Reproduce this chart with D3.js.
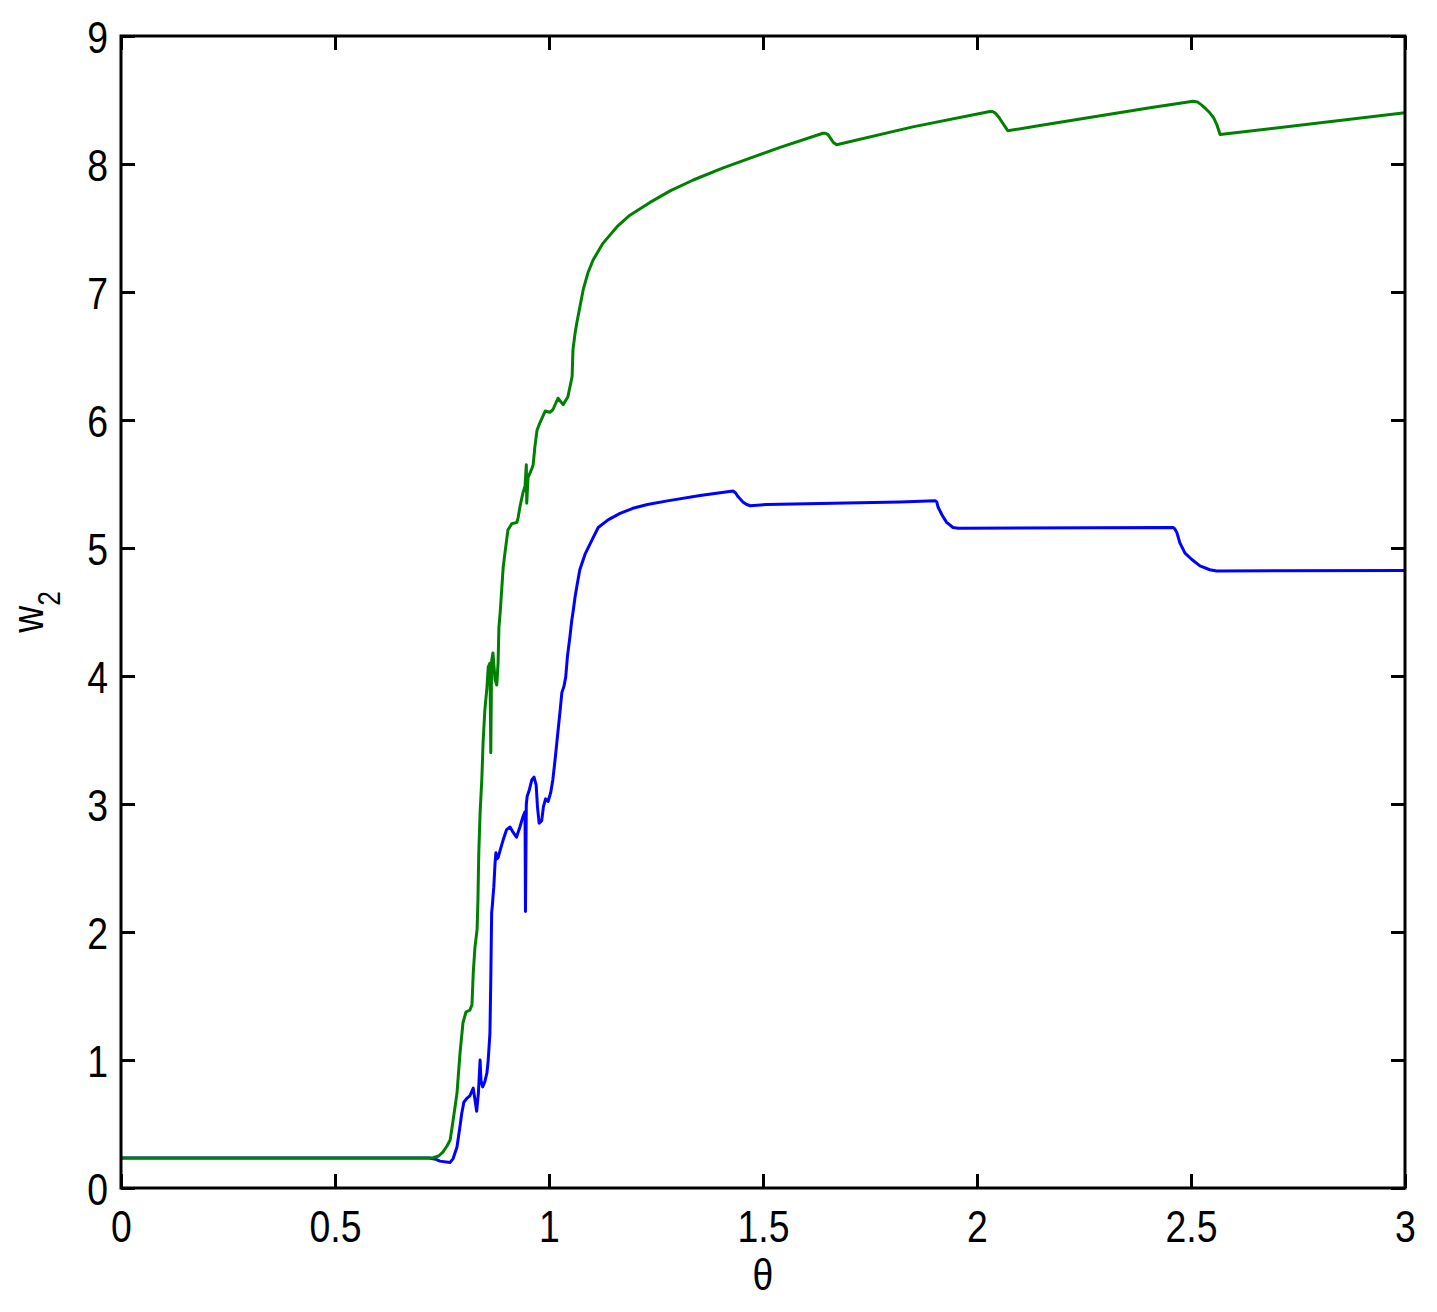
<!DOCTYPE html>
<html><head><meta charset="utf-8">
<script src="https://cdn.jsdelivr.net/npm/d3@7"></script>
<style>body{margin:0;background:#fff}svg{display:block}</style>
</head><body>
<svg id="c" width="1437" height="1312"></svg>
<script>
const xTicks = [0, 0.5, 1, 1.5, 2, 2.5, 3];
const xTickLabels = ["0", "0.5", "1", "1.5", "2", "2.5", "3"];
const yTicks = [0, 1, 2, 3, 4, 5, 6, 7, 8, 9];
const yTickLabels = ["0", "1", "2", "3", "4", "5", "6", "7", "8", "9"];

const blueTheta = [0,0.72,0.735,0.745,0.769,0.776,0.785,0.792,0.796,0.801,0.808,0.815,0.823,0.827,0.831,0.835,0.839,0.841,0.845,0.850,0.855,0.858,0.862,0.864,0.866,0.868,0.869,0.871,0.874,0.876,0.878,0.881,0.886,0.893,0.901,0.909,0.916,0.924,0.932,0.939,0.944,0.945,0.947,0.949,0.954,0.960,0.965,0.970,0.973,0.977,0.983,0.987,0.992,0.998,1.004,1.009,1.014,1.018,1.022,1.026,1.030,1.035,1.039,1.043,1.049,1.053,1.057,1.061,1.065,1.072,1.084,1.100,1.115,1.138,1.166,1.196,1.230,1.28,1.353,1.430,1.436,1.442,1.453,1.462,1.470,1.509,1.664,1.820,1.902,1.906,1.909,1.918,1.929,1.944,1.956,2.458,2.462,2.467,2.474,2.486,2.502,2.521,2.544,2.560,3.0];
const blueW = [0.234,0.234,0.225,0.21,0.20,0.23,0.32,0.48,0.58,0.67,0.70,0.72,0.78,0.69,0.60,0.74,1.00,0.84,0.79,0.83,0.90,1.00,1.21,1.63,2.15,2.22,2.27,2.35,2.54,2.62,2.57,2.58,2.64,2.72,2.80,2.82,2.78,2.74,2.82,2.90,2.94,2.16,3.00,3.06,3.11,3.19,3.21,3.15,2.98,2.85,2.87,2.98,3.04,3.02,3.09,3.19,3.34,3.47,3.60,3.73,3.87,3.92,3.99,4.15,4.31,4.43,4.52,4.62,4.70,4.83,4.95,5.06,5.16,5.22,5.27,5.31,5.34,5.37,5.41,5.445,5.43,5.40,5.36,5.34,5.33,5.34,5.35,5.36,5.37,5.36,5.32,5.26,5.20,5.16,5.155,5.16,5.15,5.12,5.04,4.96,4.91,4.86,4.83,4.82,4.825];

const greenTheta = [0,0.72,0.729,0.742,0.752,0.762,0.769,0.776,0.785,0.792,0.799,0.806,0.815,0.82,0.823,0.827,0.832,0.834,0.835,0.836,0.839,0.843,0.846,0.850,0.855,0.858,0.862,0.864,0.866,0.869,0.874,0.878,0.881,0.883,0.886,0.890,0.893,0.897,0.904,0.913,0.925,0.928,0.932,0.939,0.944,0.947,0.948,0.951,0.960,0.963,0.967,0.972,0.979,0.991,1.002,1.009,1.021,1.033,1.044,1.054,1.056,1.061,1.065,1.072,1.080,1.091,1.103,1.126,1.159,1.189,1.236,1.283,1.337,1.407,1.486,1.540,1.640,1.646,1.652,1.658,1.664,1.672,1.850,2.030,2.036,2.042,2.050,2.058,2.066,2.072,2.147,2.404,2.505,2.515,2.525,2.535,2.544,2.553,2.560,2.568,3.0];
const greenW = [0.234,0.234,0.236,0.25,0.28,0.33,0.375,0.53,0.74,1.05,1.29,1.375,1.39,1.43,1.68,1.88,2.02,2.25,2.45,2.62,2.93,3.19,3.48,3.73,3.91,4.07,4.10,3.40,4.12,4.18,3.97,3.93,4.10,4.38,4.50,4.70,4.85,4.96,5.14,5.19,5.20,5.24,5.32,5.43,5.48,5.65,5.35,5.55,5.62,5.65,5.79,5.92,5.98,6.07,6.06,6.08,6.17,6.12,6.18,6.34,6.55,6.68,6.76,6.88,7.02,7.15,7.25,7.38,7.51,7.60,7.70,7.79,7.875,7.97,8.065,8.13,8.24,8.24,8.23,8.20,8.17,8.15,8.29,8.41,8.41,8.40,8.37,8.33,8.29,8.26,8.30,8.44,8.49,8.485,8.46,8.43,8.40,8.36,8.31,8.23,8.40];

const L = 121, T = 36, W = 1284, H = 1152;
const FONT = "'Liberation Sans', Arial, Helvetica, sans-serif";
const SX = 0.85;
const svg = d3.select("#c");
const x = d3.scaleLinear().domain([0, 3]).range([L, L + W]);
const y = d3.scaleLinear().domain([0, 9]).range([T + H, T]);

svg.append("defs").append("clipPath").attr("id", "clip")
  .append("rect").attr("x", L).attr("y", T).attr("width", W).attr("height", H);

const line = d3.line().x(d => x(d[0])).y(d => y(d[1]));
const blue = blueTheta.map((t, i) => [t, blueW[i]]);
const green = greenTheta.map((t, i) => [t, greenW[i]]);
const plot = svg.append("g").attr("clip-path", "url(#clip)");
plot.append("path").datum(blue).attr("d", line).attr("fill", "none")
  .attr("stroke", "#0000ff").attr("stroke-width", 3).attr("stroke-linejoin", "round");
plot.append("path").datum(green).attr("d", line).attr("fill", "none")
  .attr("stroke", "#008000").attr("stroke-width", 3).attr("stroke-linejoin", "round");

function styleAxis(g) {
  g.select(".domain").remove();
  g.selectAll(".tick line").attr("stroke", "#000").attr("stroke-width", 3);
}
const TK = 14;
const gB = svg.append("g").attr("transform", `translate(0,${T + H})`)
  .call(d3.axisBottom(x).tickValues(xTicks).tickSizeInner(-TK).tickSizeOuter(0)
    .tickFormat((d, i) => xTickLabels[i]));
styleAxis(gB);
gB.selectAll(".tick text").attr("y", 54).attr("dy", 0)
  .attr("font-family", FONT).attr("font-size", 44).attr("fill", "#000")
  .attr("transform", `scale(${SX},1)`);

const gT = svg.append("g").attr("transform", `translate(0,${T})`)
  .call(d3.axisTop(x).tickValues(xTicks).tickSizeInner(-TK).tickSizeOuter(0).tickFormat(""));
styleAxis(gT);

const gL = svg.append("g").attr("transform", `translate(${L},0)`)
  .call(d3.axisLeft(y).tickValues(yTicks).tickSizeInner(-TK).tickSizeOuter(0)
    .tickFormat((d, i) => yTickLabels[i]));
styleAxis(gL);
gL.selectAll(".tick text").attr("x", -13 / SX).attr("dy", 0).attr("y", 16)
  .attr("font-family", FONT).attr("font-size", 44).attr("fill", "#000")
  .attr("transform", `scale(${SX},1)`);

const gR = svg.append("g").attr("transform", `translate(${L + W},0)`)
  .call(d3.axisRight(y).tickValues(yTicks).tickSizeInner(-TK).tickSizeOuter(0).tickFormat(""));
styleAxis(gR);

svg.append("rect").attr("x", L).attr("y", T).attr("width", W).attr("height", H)
  .attr("fill", "none").attr("stroke", "#000").attr("stroke-width", 3);

// axis labels
svg.append("text").attr("transform", `translate(${L + W / 2},1290) scale(${SX},1)`)
  .attr("text-anchor", "middle").attr("font-family", FONT).attr("font-size", 44)
  .attr("fill", "#000").text("θ");

const yl = svg.append("text").attr("transform", `translate(43,612) rotate(-90) scale(${SX},1)`)
  .attr("text-anchor", "middle").attr("font-family", FONT).attr("font-size", 44).attr("fill", "#000");
yl.append("tspan").text("w");
yl.append("tspan").attr("font-size", 31).attr("dy", 17).text("2");
</script>
</body></html>
